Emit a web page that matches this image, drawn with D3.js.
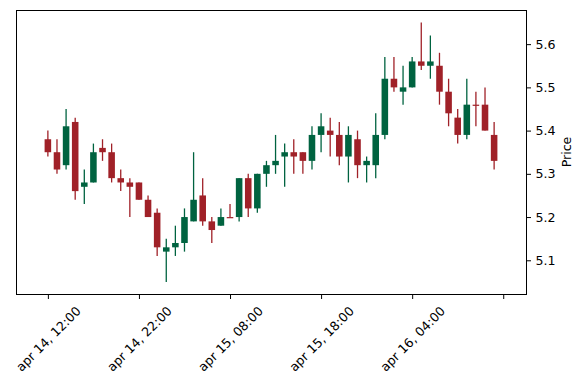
<!DOCTYPE html>
<html>
<head>
<meta charset="utf-8">
<script src="https://cdn.jsdelivr.net/npm/d3@7"></script>
<style>
  html, body { margin: 0; padding: 0; background: #fff; }
  svg { display: block; }
  text { font-family: "DejaVu Sans", sans-serif; }
</style>
</head>
<body>
<svg id="chart" width="587" height="390"></svg>
<script>
// ---- data (hourly candles starting apr 14, 12:00) ----
const opens  = [5.38,5.35,5.32,5.42,5.27,5.28,5.36,5.35,5.29,5.28,5.28,5.24,5.21,5.12,5.13,5.14,5.19,5.25,5.19,5.18,
                5.20,5.20,5.29,5.22,5.30,5.32,5.34,5.35,5.35,5.33,5.39,5.40,5.39,5.34,5.38,5.32,5.32,5.39,5.52,5.49,
                5.50,5.56,5.55,5.55,5.49,5.43,5.39,5.46,5.46,5.39];
const highs  = [5.40,5.38,5.45,5.43,5.31,5.37,5.38,5.37,5.31,5.29,5.28,5.25,5.22,5.15,5.18,5.22,5.35,5.29,5.20,5.22,
                5.23,5.29,5.30,5.30,5.33,5.39,5.37,5.38,5.35,5.41,5.44,5.43,5.42,5.41,5.40,5.34,5.44,5.57,5.57,5.55,
                5.57,5.65,5.62,5.58,5.52,5.45,5.52,5.49,5.50,5.42];
const lows   = [5.34,5.30,5.31,5.24,5.23,5.28,5.33,5.28,5.26,5.20,5.24,5.20,5.11,5.05,5.11,5.12,5.19,5.18,5.14,5.18,
                5.20,5.19,5.20,5.21,5.27,5.30,5.27,5.30,5.30,5.31,5.35,5.34,5.32,5.28,5.29,5.28,5.29,5.38,5.49,5.46,
                5.50,5.54,5.52,5.46,5.41,5.37,5.38,5.41,5.40,5.31];
const closes = [5.35,5.31,5.41,5.26,5.28,5.35,5.35,5.29,5.28,5.27,5.24,5.20,5.13,5.13,5.14,5.20,5.24,5.19,5.17,5.20,
                5.20,5.29,5.22,5.30,5.32,5.33,5.35,5.34,5.33,5.39,5.41,5.39,5.34,5.39,5.32,5.33,5.39,5.52,5.50,5.50,
                5.56,5.55,5.56,5.49,5.44,5.39,5.46,5.46,5.40,5.33];
const xTickIndex  = [0, 10, 20, 30, 40, 50];
const xTickLabels = ["apr 14, 12:00", "apr 14, 22:00", "apr 15, 08:00", "apr 15, 18:00", "apr 16, 04:00", ""];
const yTicks = [5.1, 5.2, 5.3, 5.4, 5.5, 5.6];
const yLabel = "Price";

const upColor = "#006340", downColor = "#A02128";

// ---- layout ----
const svg = d3.select("#chart");
const L = 16, R = 526, T = 10, B = 294;

const x = d3.scaleLinear().domain([-3.5, 52.5]).range([L, R]);
const y = d3.scaleLinear().domain([5.022, 5.679]).range([B, T]);

const candles = opens.map((o, i) => ({ i, o, h: highs[i], l: lows[i], c: closes[i] }));
const bw = (x(1) - x(0)) * 0.72;

const g = svg.append("g");
// wicks
g.selectAll("line.wick").data(candles).enter().append("line")
  .attr("class", "wick")
  .attr("x1", d => x(d.i)).attr("x2", d => x(d.i))
  .attr("y1", d => y(d.h)).attr("y2", d => y(d.l))
  .attr("stroke", d => d.c > d.o ? upColor : downColor)
  .attr("stroke-width", 1.3);
// bodies
g.selectAll("rect.body").data(candles).enter().append("rect")
  .attr("class", "body")
  .attr("x", d => x(d.i) - bw / 2)
  .attr("width", bw)
  .attr("y", d => y(Math.max(d.o, d.c)))
  .attr("height", d => Math.max(1.2, y(Math.min(d.o, d.c)) - y(Math.max(d.o, d.c))))
  .attr("fill", d => d.c > d.o ? upColor : downColor);

// frame
svg.append("rect")
  .attr("x", L + 0.5).attr("y", T + 0.5)
  .attr("width", R - L).attr("height", B - T)
  .attr("fill", "none").attr("stroke", "#000").attr("stroke-width", 1);

const fs = 12.6;
// y axis on right
const yAxis = svg.append("g")
  .attr("transform", `translate(${R + 0.5},0)`)
  .call(d3.axisRight(y).tickValues(yTicks).tickFormat(d3.format(".1f")).tickSize(4.5).tickPadding(4.5));
yAxis.select(".domain").remove();
yAxis.selectAll("text").attr("font-size", fs).attr("fill", "#000").attr("font-family", "DejaVu Sans");
yAxis.selectAll("line").attr("stroke", "#000");

// x axis
const xAxis = svg.append("g")
  .attr("transform", `translate(0,${B + 0.5})`)
  .call(d3.axisBottom(x).tickValues(xTickIndex).tickFormat((d, k) => xTickLabels[k]).tickSize(4.5).tickPadding(4.5));
xAxis.select(".domain").remove();
xAxis.selectAll("line").attr("stroke", "#000");
xAxis.selectAll("text")
  .attr("font-size", fs).attr("fill", "#000").attr("font-family", "DejaVu Sans")
  .each(function () {
    const t = d3.select(this);
    const w = this.getComputedTextLength();
    const h = fs * 1.17;
    const H = (w + h) * Math.SQRT1_2;
    const cy = 4.5 + 4.5 + H / 2;
    t.attr("y", null).attr("dy", null)
     .attr("text-anchor", "middle")
     .attr("dominant-baseline", "central")
     .attr("transform", `translate(0,${cy}) rotate(-45)`);
  });

// y label
svg.append("text")
  .attr("transform", `translate(566,${(T + B) / 2}) rotate(-90)`)
  .attr("text-anchor", "middle")
  .attr("dominant-baseline", "central")
  .attr("font-size", fs)
  .attr("fill", "#000")
  .text(yLabel);
</script>
</body>
</html>
